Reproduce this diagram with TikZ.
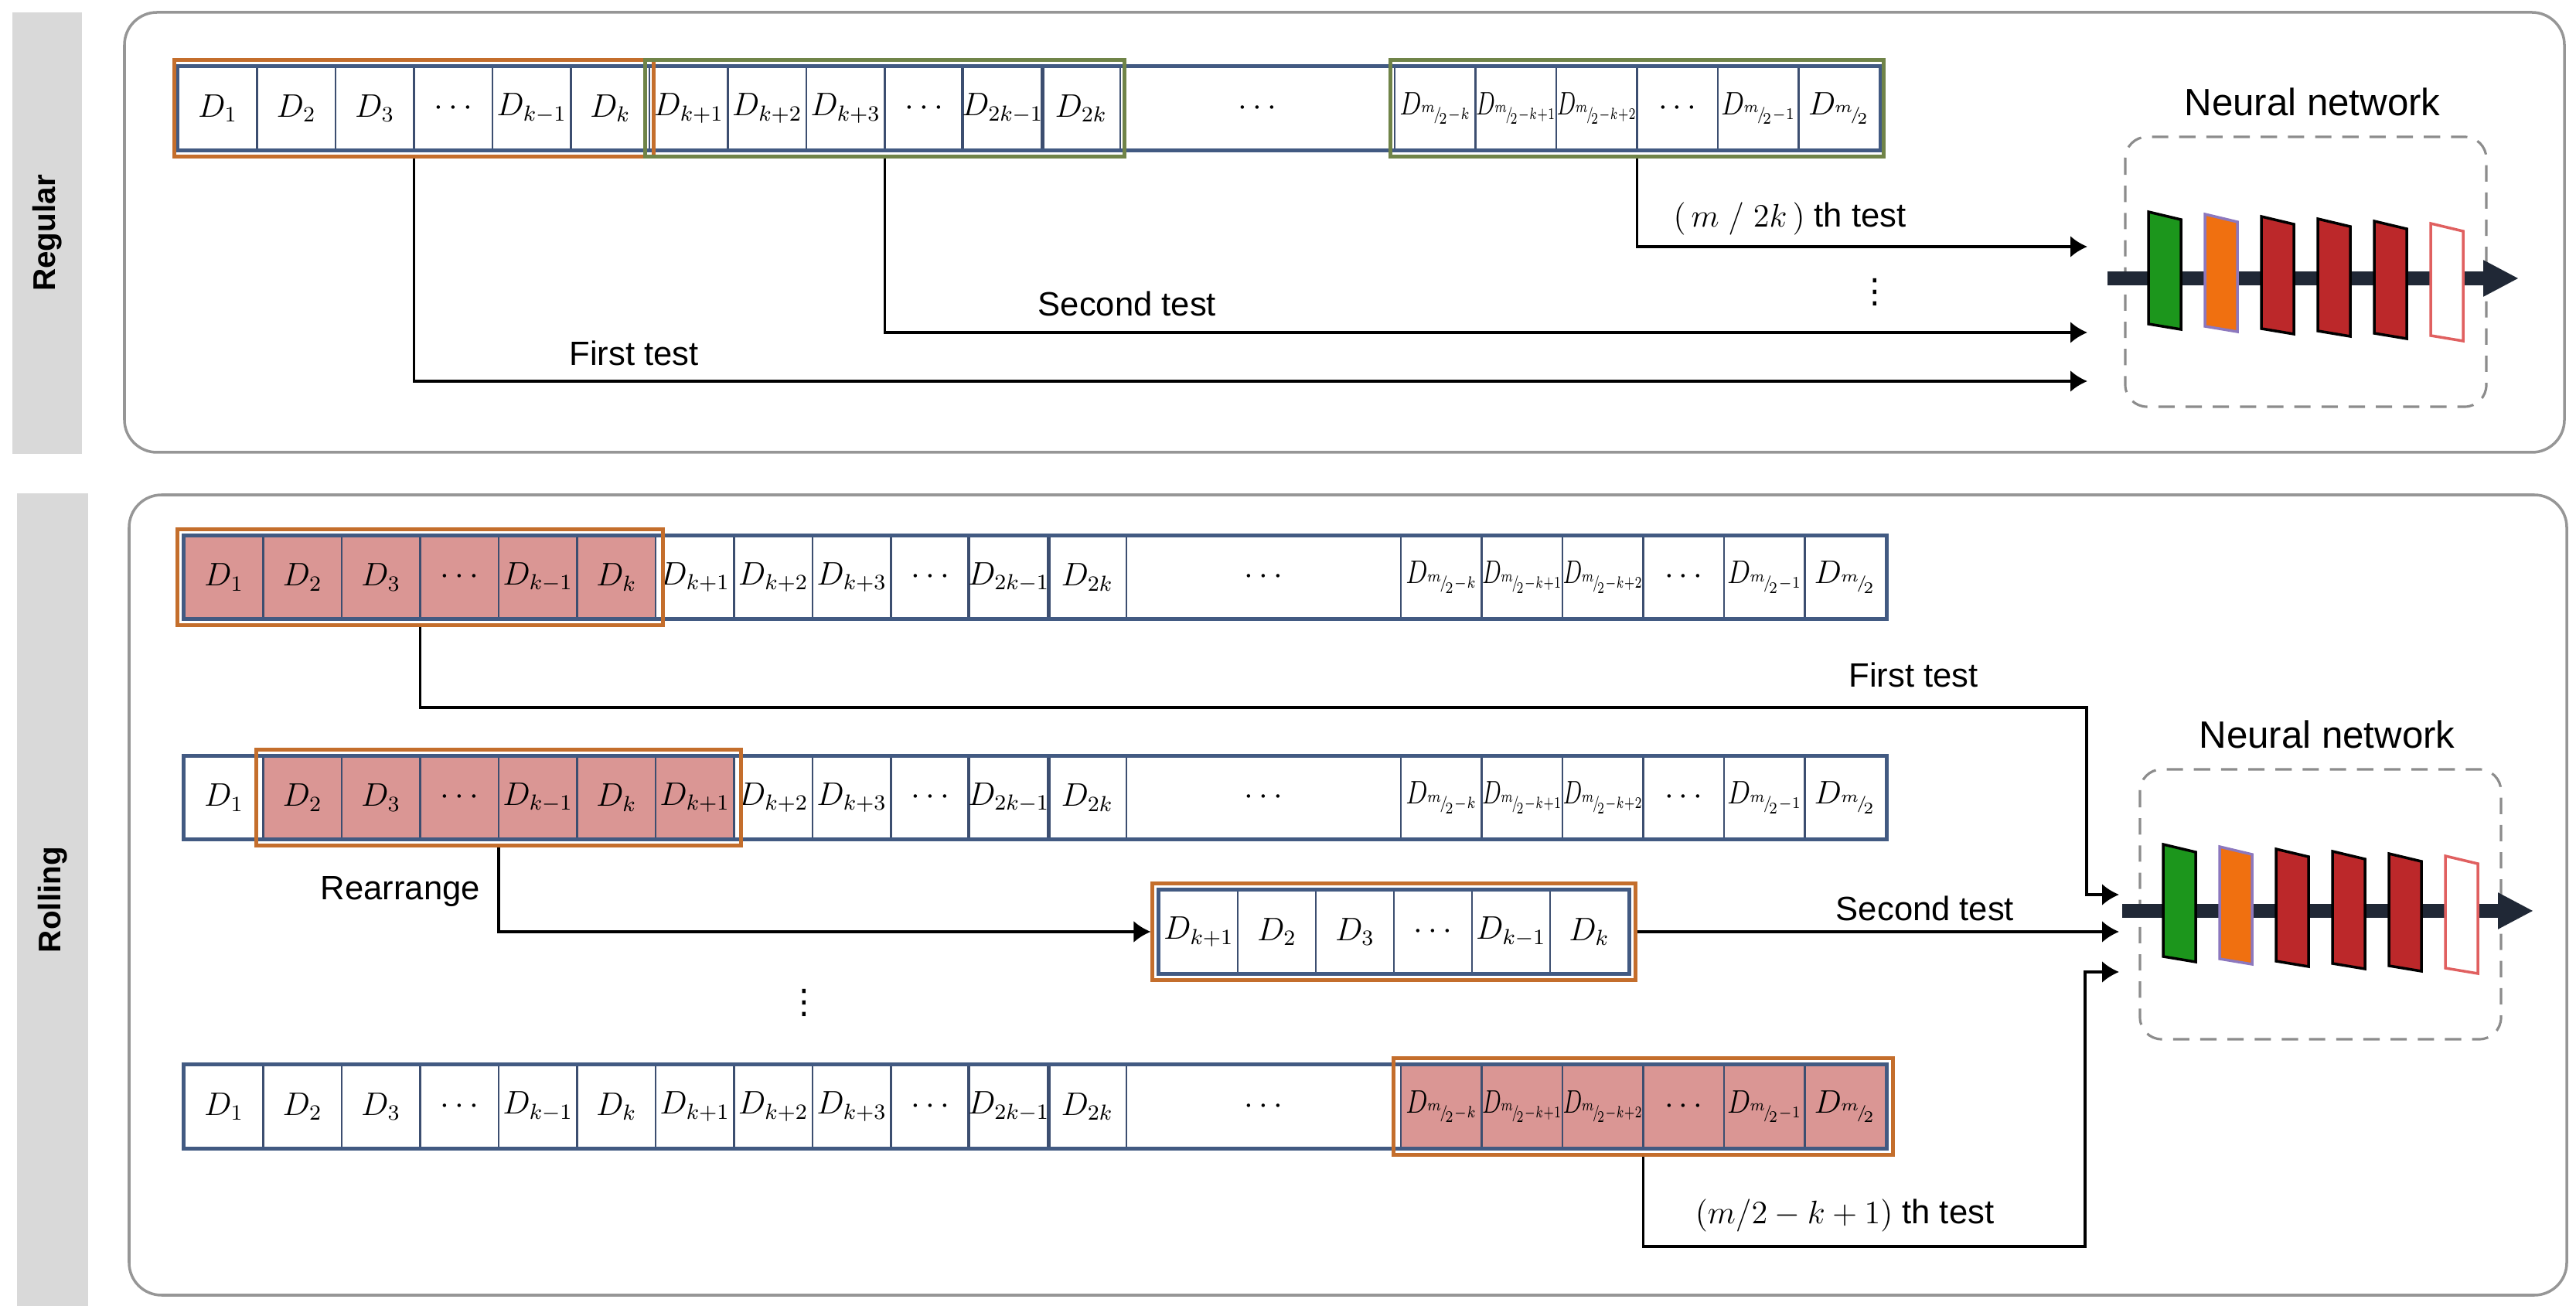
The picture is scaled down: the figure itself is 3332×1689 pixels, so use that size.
\documentclass[tikz,border=0pt]{standalone}
\usepackage{graphicx}
\usepackage[no-math]{fontspec}
\setmainfont{Liberation Sans}
\newfontfamily\symfont{DejaVu Sans}
\usetikzlibrary{arrows.meta,fit,backgrounds}

\definecolor{rowblue}{RGB}{66,90,130}
\definecolor{sepblue}{RGB}{60,78,112}
\definecolor{grpor}{RGB}{196,110,44}
\definecolor{grpgr}{RGB}{112,132,72}
\definecolor{cellpink}{RGB}{218,150,148}
\definecolor{panelgray}{RGB}{150,150,150}
\definecolor{bargray}{RGB}{217,217,217}
\definecolor{nnarrow}{RGB}{32,40,54}
\definecolor{nngreen}{RGB}{28,150,28}
\definecolor{nnorange}{RGB}{240,112,16}
\definecolor{nnpurple}{RGB}{140,120,190}
\definecolor{nnred}{RGB}{188,40,42}
\definecolor{nnpink}{RGB}{224,96,96}
\definecolor{dashgray}{RGB}{140,140,140}

\newcommand{\hm}{{}^{m}\!/\!_{2}}

\tikzset{
    cell/.style={draw=sepblue, line width=0.7pt, minimum height=1.06cm, inner sep=0pt,
        font=\fontsize{12}{14}\selectfont},
    rowline/.style={draw=rowblue, line width=1.5pt},
    grpbox/.style={line width=1.3pt, inner xsep=0.08cm, inner ysep=0.08cm},
    link/.style={->, line width=1pt},
    lbl/.style={font=\fontsize{12.4}{15}\selectfont, inner sep=1pt},
    panel/.style={draw=panelgray, line width=1pt, rounded corners=0.42cm},
    sidebar/.style={fill=bargray, rotate=90, inner sep=0pt,
        font=\fontsize{11.5}{13}\selectfont\bfseries},
    nnbox/.style={draw=dashgray, line width=0.9pt, dash pattern=on 6pt off 4pt, rounded corners=0.28cm},
    nnlbl/.style={font=\fontsize{14}{16}\selectfont},
    nnflow/.style={draw=nnarrow, line width=5pt, -{Triangle[length=0.46cm, width=0.44cm]}}
}

\begin{document}
\begin{tikzpicture}[x=0.01cm, y=-0.01cm, >={Latex[length=0.22cm, width=0.28cm]}]
    \useasboundingbox (0, 0) rectangle (3332, 1689);

    % Panels and side bars
    \draw[panel] (161, 16) rectangle (3317, 585);
    \draw[panel] (167, 640) rectangle (3320, 1675);
    \node[sidebar, minimum width=5.71cm, minimum height=0.9cm] (regbar) at (61, 301.5) {Regular};
    \node[sidebar, minimum width=10.51cm, minimum height=0.92cm] (rolbar) at (68, 1163.5) {Rolling};

    % Data rows: a = regular, b, c, d = rolling
    \foreach \r/\xo/\yo in {a/231/140, b/239/746.5, c/239/1031.5, d/239/1431} {
        \foreach \lab [count=\i] in {$D_1$, $D_2$, $D_3$, $\cdots$, $D_{k-1}$, $D_k$,
                $D_{k+1}$, $D_{k+2}$, $D_{k+3}$, $\cdots$, $D_{2k-1}$, $D_{2k}$, $\cdots$,
                \scalebox{.8}[1]{$D_{\scriptscriptstyle\hm-k}$},
                \scalebox{.7}[1]{$D_{\scriptscriptstyle\hm-k+1}$},
                \scalebox{.7}[1]{$D_{\scriptscriptstyle\hm-k+2}$}, $\cdots$,
                \scalebox{.85}[1]{$D_{\scriptscriptstyle\hm-1}$}, $D_{\scriptscriptstyle\hm}$} {
            \pgfmathsetmacro\xc{\xo + (\i<13 ? (\i-0.5)*101.5 : (\i==13 ? 1395.5 : 1573+(\i-13.5)*104.5))}
            \pgfmathsetmacro\wc{\i<13 ? 1.015 : (\i==13 ? 3.55 : 1.045)}
            \node[cell, minimum width=\wc cm] (\r\i) at (\xc, \yo) {\lab};
        }
        \draw[rowline] (\r1.north west) rectangle (\r19.south east);
    }

    % Rearranged row
    \foreach \lab [count=\i] in {$D_{k+1}$, $D_2$, $D_3$, $\cdots$, $D_{k-1}$, $D_k$}
        \node[cell, minimum width=1.01cm] (e\i) at (1500+\i*101-50.5, 1205) {\lab};
    \draw[rowline] (e1.north west) rectangle (e6.south east);

    % Selected blocks
    \begin{scope}[on background layer]
        \fill[cellpink] (b1.north west) rectangle (b6.south east);
        \fill[cellpink] (c2.north west) rectangle (c7.south east);
        \fill[cellpink] (d14.north west) rectangle (d19.south east);
    \end{scope}
    \node[grpbox, draw=grpor, inner xsep=0.04cm, fit=(a1)(a6)] (ag1) {};
    \node[grpbox, draw=grpgr, inner xsep=0.04cm, fit=(a7)(a12)] (ag2) {};
    \node[grpbox, draw=grpgr, inner xsep=0.04cm, fit=(a14)(a19)] (ag4) {};
    \node[grpbox, draw=grpor, fit=(b1)(b6)] (bg1) {};
    \node[grpbox, draw=grpor, fit=(c2)(c7)] (cg1) {};
    \node[grpbox, draw=grpor, fit=(e1)(e6)] (eg1) {};
    \node[grpbox, draw=grpor, fit=(d14)(d19)] (dg4) {};

    % Neural networks
    \foreach \nx/\ny/\n in {2749/177/1, 2768/995/2} {
        \begin{scope}[shift={(\nx, \ny)}]
            \draw[nnbox] (0, 0) rectangle (467, 349);
            \node[nnlbl] (nnl\n) at (242, -45) {Neural network};
            \draw[nnflow] (-23, 183) -- (509, 183);
            \foreach \fc/\dc [count=\j from 0] in {nngreen/black, nnorange/nnpurple, nnred/black,
                    nnred/black, nnred/black, white/nnpink}
                \filldraw[fill=\fc, draw=\dc, line width=1pt]
                    (30+73*\j, 97+3*\j) -- ++(42, 10) -- ++(0, 142) -- ++(-42, -7) -- cycle;
        \end{scope}
    }

    % Regular tests
    \coordinate (ain1) at (2700, 493);
    \coordinate (ain2) at (2700, 430);
    \coordinate (ain3) at (2700, 319);
    \draw[link] (ag1.south) |- (ain1);
    \draw[link] (ag2.south) |- (ain2);
    \draw[link] (ag4.south) |- (ain3);
    \node[lbl] (ft1) at (820, 457) {First test};
    \node[lbl] (st1) at (1458, 393) {Second test};
    \node[lbl] (nt1) at (2315, 283) {$\bigl(\,m\;/\;2k\,\bigr)$ th test};
    \node[lbl] (vd1) at (2425, 378) {\symfont ⋮};

    % Rolling tests
    \coordinate (bin1) at (2741, 1157);
    \coordinate (bin2) at (2741, 1205);
    \coordinate (bin3) at (2741, 1257);
    \draw[link] (bg1.south) |- (2699, 915) |- (bin1);
    \draw[link] (cg1.south) |- (eg1.west);
    \draw[link] (eg1.east) -- (bin2);
    \draw[link] (dg4.south) |- (2697, 1612) |- (bin3);
    \node[lbl] (ft2) at (2475, 873) {First test};
    \node[lbl] (st2) at (2490, 1175) {Second test};
    \node[lbl] (rr) at (518, 1153) {Rearrange};
    \node[lbl] (nt2) at (2386, 1572) {$\bigl(m/2-k+1\bigr)$ th test};
    \node[lbl] (vd2) at (1040, 1297) {\symfont ⋮};
\end{tikzpicture}
\end{document}
